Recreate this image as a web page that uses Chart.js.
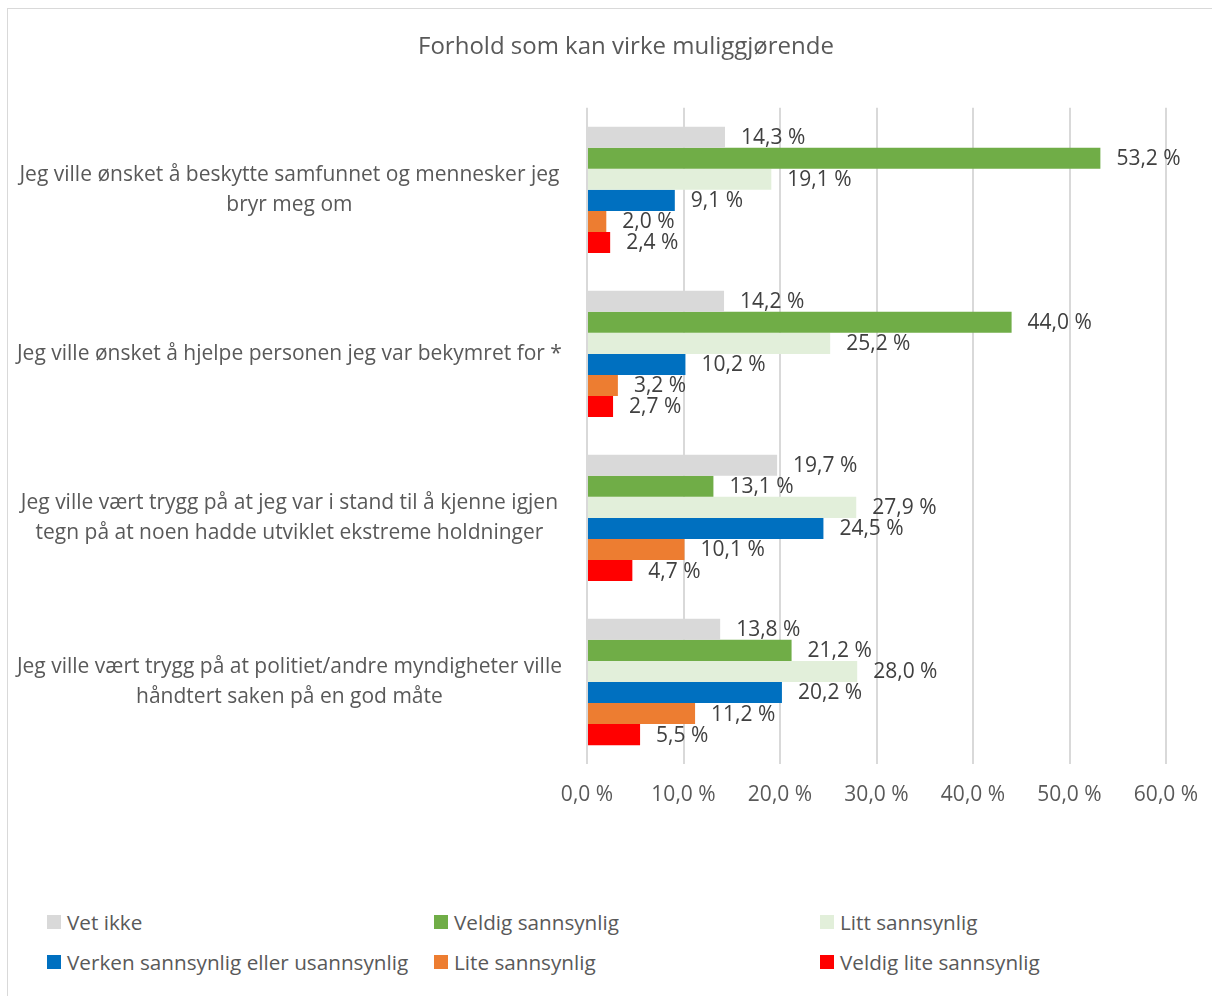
<!DOCTYPE html>
<html lang="no">
<head>
<meta charset="UTF-8">
<title>Forhold som kan virke muliggjørende</title>
<script src="https://cdn.jsdelivr.net/npm/chart.js"></script>
<style>
    body { margin: 0; background: #fff; overflow: hidden; font-family: "Open Sans", Lato, sans-serif; }
    .frame { position: absolute; left: 7px; top: 8px; width: 1236px; height: 1000px; border: 1px solid #d9d9d9; }
    .chart-box { position: absolute; left: 0; top: 0; width: 1236px; height: 815px; }
    .legend-item { position: absolute; font-size: 20.7px; color: #595959; display: flex; align-items: center; white-space: nowrap; }
    .legend-item span.box { display: inline-block; width: 14px; height: 14px; margin-right: 6px; }
</style>
</head>
<body>
<div class="frame">
    <div class="chart-box"><canvas id="chart"></canvas></div>
</div>
<div id="legend"></div>
<script>
    // Kategorier (linjer per etikett)
    const categories = [
        ['Jeg ville ønsket å beskytte samfunnet og mennesker jeg', 'bryr meg om'],
        ['Jeg ville ønsket å hjelpe personen jeg var bekymret for *'],
        ['Jeg ville vært trygg på at jeg var i stand til å kjenne igjen', 'tegn på at noen hadde utviklet ekstreme holdninger'],
        ['Jeg ville vært trygg på at politiet/andre myndigheter ville', 'håndtert saken på en god måte']
    ];
    const seriesNames = ['Vet ikke', 'Veldig sannsynlig', 'Litt sannsynlig', 'Verken sannsynlig eller usannsynlig', 'Lite sannsynlig', 'Veldig lite sannsynlig'];
    const seriesColors = ['#d9d9d9', '#70ad47', '#e2efda', '#0070c0', '#ed7d31', '#ff0000'];
    const vetIkke = [14.3, 14.2, 19.7, 13.8];
    const veldigSannsynlig = [53.2, 44.0, 13.1, 21.2];
    const littSannsynlig = [19.1, 25.2, 27.9, 28.0];
    const verken = [9.1, 10.2, 24.5, 20.2];
    const liteSannsynlig = [2.0, 3.2, 10.1, 11.2];
    const veldigLite = [2.4, 2.7, 4.7, 5.5];
    const seriesValues = [vetIkke, veldigSannsynlig, littSannsynlig, verken, liteSannsynlig, veldigLite];
    const xTicks = [0, 10, 20, 30, 40, 50, 60];

    const fmt = v => v.toFixed(1).replace('.', ',') + ' %';
    const FONT = '"Open Sans", Lato, sans-serif';

    // dataetiketter til høyre for søylene
    const valueLabels = {
        id: 'valueLabels',
        afterDatasetsDraw(chart) {
            const ctx = chart.ctx;
            ctx.save();
            ctx.font = '21px ' + FONT;
            ctx.fillStyle = '#404040';
            ctx.textAlign = 'left';
            ctx.textBaseline = 'middle';
            chart.data.datasets.forEach((ds, i) => {
                chart.getDatasetMeta(i).data.forEach((bar, j) => {
                    ctx.fillText(fmt(ds.data[j]), bar.x + 16, bar.y + 1);
                });
            });
            ctx.restore();
        }
    };

    new Chart(document.getElementById('chart'), {
        type: 'bar',
        data: {
            labels: categories,
            datasets: seriesNames.map((name, i) => ({
                label: name,
                data: seriesValues[i],
                backgroundColor: seriesColors[i],
                borderWidth: 0,
                categoryPercentage: 0.77,
                barPercentage: 1.0
            }))
        },
        options: {
            indexAxis: 'y',
            responsive: true,
            maintainAspectRatio: false,
            animation: false,
            layout: { padding: 0 },
            plugins: {
                legend: { display: false },
                tooltip: { enabled: false },
                title: {
                    display: true,
                    text: 'Forhold som kan virke muliggjørende',
                    color: '#595959',
                    font: { family: FONT, size: 24, weight: 'normal' },
                    padding: { top: 24, bottom: 46 }
                }
            },
            scales: {
                x: {
                    min: 0, max: 60,
                    afterBuildTicks: s => { s.ticks = xTicks.map(v => ({ value: v })); },
                    afterFit: s => { s.height = 60; s.paddingRight = 78; },
                    grid: { color: '#d9d9d9', lineWidth: 2, drawTicks: false },
                    border: { display: false },
                    ticks: {
                        padding: 18,
                        color: '#595959',
                        font: { family: FONT, size: 21 },
                        callback: v => fmt(v)
                    }
                },
                y: {
                    afterFit: s => { s.width = 579; },
                    grid: { display: false, drawTicks: false },
                    border: { display: false },
                    ticks: {
                        crossAlign: 'center',
                        padding: 25,
                        color: '#595959',
                        font: { family: FONT, size: 21, lineHeight: 1.4 }
                    }
                }
            }
        },
        plugins: [valueLabels]
    });

    // legende i tre kolonner
    const legendCols = [47, 434, 820];
    const legendRows = [922, 962];
    const legend = document.getElementById('legend');
    seriesNames.forEach((name, i) => {
        const el = document.createElement('div');
        el.className = 'legend-item';
        el.style.left = legendCols[i % 3] + 'px';
        el.style.top = (legendRows[Math.floor(i / 3)] - 14) + 'px';
        el.innerHTML = '<span class="box" style="background:' + seriesColors[i] + '"></span>' + name;
        legend.appendChild(el);
    });
</script>
</body>
</html>
